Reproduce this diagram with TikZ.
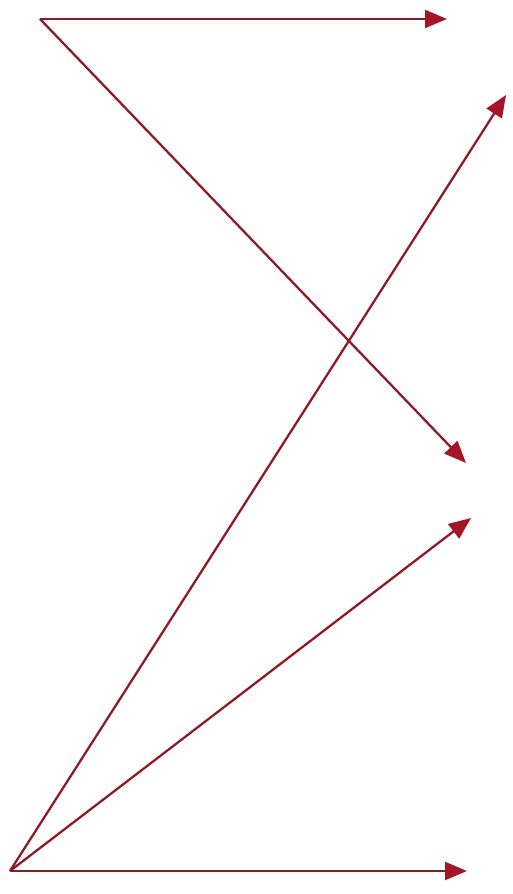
\documentclass[tikz,border=0pt]{standalone}
\usepackage{tikz}
\usetikzlibrary{arrows.meta}
\definecolor{mapred}{HTML}{8E1A26}
\definecolor{mapredtip}{HTML}{A3162A}

\begin{document}
\begin{tikzpicture}[
    maparrow/.style={draw=mapred, line width=1.3pt,
      -{Triangle[length=0.44cm, width=0.36cm, fill=mapredtip, color=mapredtip]}}
  ]
  \useasboundingbox (0,0) rectangle (10.24,17.88);
  % the two sources
  \coordinate (top) at (0.80,17.50);
  \coordinate (bot) at (0.20,0.46);
  % targets
  \coordinate (t1) at (8.94,17.50);
  \coordinate (t2) at (9.32,8.62);
  \coordinate (t3) at (10.12,15.98);
  \coordinate (t4) at (9.42,7.52);
  \coordinate (t5) at (9.34,0.46);
  \draw[maparrow] (top) -- (t1);
  \draw[maparrow] (top) -- (t2);
  \foreach \t in {t3,t4,t5}{
    \draw[maparrow] (bot) -- (\t);
  }
\end{tikzpicture}
\end{document}
